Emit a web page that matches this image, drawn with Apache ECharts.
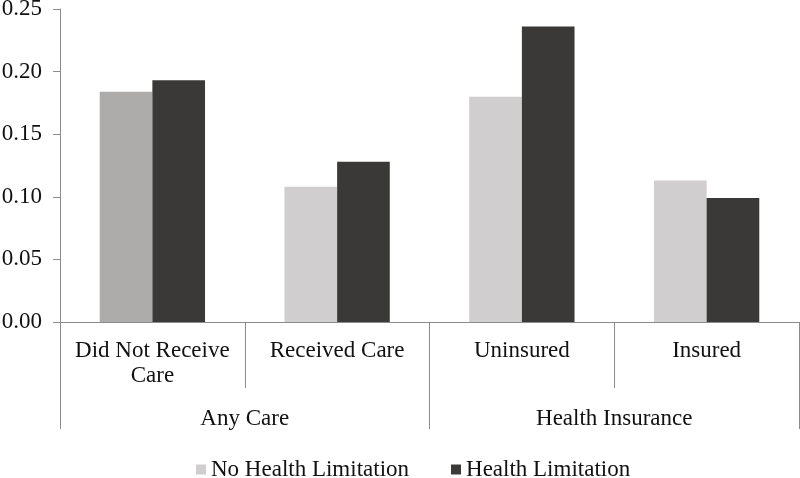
<!DOCTYPE html>
<html>
<head>
<meta charset="utf-8">
<script src="https://cdn.jsdelivr.net/npm/echarts@6/dist/echarts.min.js"></script>
<style>html,body{margin:0;padding:0;background:#fff}#c{width:800px;height:478px}</style>
</head>
<body>
<div id="c"></div>
<script>
var categories = ['Did Not Receive\nCare', 'Received Care', 'Uninsured', 'Insured'];
var groups = ['Any Care', 'Health Insurance'];
var seriesNames = ['No Health Limitation', 'Health Limitation'];
var noLimitation = [0.184, 0.108, 0.180, 0.113];
var limitation = [0.193, 0.128, 0.236, 0.099];
var yTicks = [0, 0.05, 0.10, 0.15, 0.20, 0.25];

var FONT = '"Liberation Serif", "DejaVu Serif", serif';
var FS = 23;
var lineColor = '#8c8c8c';
var chart = echarts.init(document.getElementById('c'), null, {renderer: 'canvas'});
chart.setOption({
  animation: false,
  backgroundColor: '#fff',
  textStyle: {fontFamily: FONT},
  grid: {left: 60, right: 1, top: 9, bottom: 156, containLabel: false, outerBoundsMode: 'none'},
  legend: {
    top: 453, left: 191,
    icon: 'rect', itemWidth: 10, itemHeight: 10, itemGap: 42,
    textStyle: {fontFamily: FONT, fontSize: FS, color: '#111'},
    data: seriesNames
  },
  xAxis: [{
    type: 'category', data: categories, position: 'bottom',
    axisLine: {show: true, lineStyle: {color: lineColor, width: 1}},
    axisTick: {show: true, length: 66, lineStyle: {color: lineColor}},
    axisLabel: {interval: 0, margin: 16, fontSize: FS, color: '#111', fontFamily: FONT, lineHeight: 25, verticalAlign: 'top'},
    splitLine: {show: false}
  }, {
    type: 'category', data: groups, position: 'bottom',
    axisLine: {show: false},
    axisTick: {show: true, length: 107, lineStyle: {color: lineColor}},
    axisLabel: {interval: 0, margin: 83, fontSize: FS, color: '#111', fontFamily: FONT, lineHeight: 27, verticalAlign: 'top'},
    splitLine: {show: false}
  }],
  yAxis: {
    type: 'value', min: yTicks[0], max: yTicks[yTicks.length - 1], interval: 0.05,
    axisLine: {show: true, lineStyle: {color: lineColor}},
    axisTick: {show: true, length: 7, lineStyle: {color: lineColor}},
    axisLabel: {fontSize: FS, color: '#111', fontFamily: FONT, margin: 18,
      formatter: function (v) { return v.toFixed(2); }},
    splitLine: {show: false}
  },
  series: [{
    name: seriesNames[0], type: 'bar', xAxisIndex: 0,
    barGap: '0%', barCategoryGap: '43%',
    itemStyle: {color: '#d0cece'},
    data: noLimitation.map(function (v, i) {
      return i === 0 ? {value: v, itemStyle: {color: '#aeabab'}} : v;
    })
  }, {
    name: seriesNames[1], type: 'bar', xAxisIndex: 0,
    barGap: '0%', barCategoryGap: '43%',
    itemStyle: {color: '#3b3838'},
    data: limitation
  }]
});
</script>
</body>
</html>
